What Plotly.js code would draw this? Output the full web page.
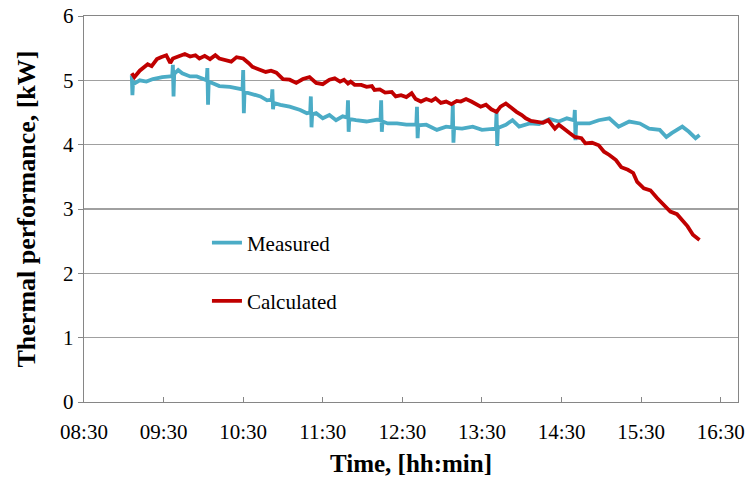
<!DOCTYPE html>
<html>
<head>
<meta charset="utf-8">
<script src="https://cdn.plot.ly/plotly-3.0.1.min.js"></script>
<style>html,body{margin:0;padding:0;background:#fff;}#chart{width:748px;height:480px;}</style>
</head>
<body>
<div id="chart"></div>
<script>
const DAY = '2020-01-01 ';
const tickTimes = ['08:30','09:30','10:30','11:30','12:30','13:30','14:30','15:30','16:30'];

const measuredTime = [
'09:06','09:06:30','09:07','09:08','09:12','09:17','09:22','09:29','09:35',
'09:36:30','09:37','09:37:30','09:38','09:41','09:44','09:50','09:55','10:00',
'10:02:30','10:03','10:03:30','10:04','10:07','10:12','10:20','10:27',
'10:29:30','10:30','10:30:30','10:31','10:35','10:43','10:48',
'10:51:30','10:52','10:52:30','10:53','10:58','11:05','11:13','11:18',
'11:20:30','11:21','11:21:30','11:22','11:25','11:30','11:35','11:40','11:45',
'11:48:30','11:49','11:49:30','11:50','11:55','12:03','12:11',
'12:13:30','12:14','12:14:30','12:15','12:19','12:26','12:33',
'12:40:30','12:41','12:41:30','12:42','12:48','12:56','13:03',
'13:07:30','13:08','13:08:30','13:09','13:15','13:23','13:30',
'13:40:30','13:41','13:41:30','13:42','13:48','13:53','13:58','14:06','14:13','14:21','14:28','14:34',
'14:39:30','14:40','14:40:30','14:41','14:43','14:51','14:58','15:06','15:13','15:21','15:29',
'15:36','15:44','15:49','15:53','16:01','16:06','16:11','16:14'];
const measuredValue = [
5.08,4.77,4.98,4.95,5.00,4.98,5.02,5.05,5.06,
5.06,5.24,4.75,5.10,5.16,5.11,5.06,5.06,5.02,
5.00,5.19,4.62,4.98,4.95,4.91,4.90,4.86,
4.86,5.16,4.49,4.82,4.80,4.75,4.69,
4.70,4.86,4.55,4.65,4.62,4.59,4.54,4.49,
4.50,4.75,4.27,4.47,4.49,4.41,4.46,4.38,4.44,
4.42,4.69,4.20,4.40,4.38,4.36,4.39,
4.38,4.69,4.20,4.36,4.33,4.33,4.31,
4.31,4.59,4.10,4.30,4.31,4.23,4.28,
4.27,4.62,4.03,4.26,4.25,4.28,4.23,
4.25,4.51,3.98,4.26,4.31,4.38,4.28,4.33,4.32,4.40,4.36,4.41,
4.38,4.54,4.07,4.33,4.33,4.33,4.38,4.41,4.28,4.36,4.33,
4.25,4.23,4.12,4.18,4.28,4.20,4.10,4.15];

const calculatedTime = [
'09:06','09:08','09:12','09:16','09:18','09:21','09:25','09:28','09:32','09:35','09:37','09:41','09:46','09:50','09:54','09:57',
'10:01','10:05','10:09','10:12','10:17','10:21','10:25','10:30','10:34','10:37','10:42','10:47','10:51','10:55',
'11:00','11:05','11:10','11:15','11:20','11:25','11:30','11:35','11:39','11:43','11:46','11:49','11:51','11:54','11:59',
'12:03','12:07','12:09','12:13','12:17','12:22','12:25','12:29','12:33','12:37','12:40','12:44','12:48','12:52','12:55','12:59',
'13:03','13:07','13:11','13:14','13:18','13:22','13:26','13:29','13:33','13:37','13:41','13:44','13:48','13:52','13:56',
'14:00','14:03','14:07','14:11','14:16','14:20','14:22','14:25','14:28','14:32','14:36','14:40','14:45','14:48','14:53','14:58',
'15:02','15:06','15:11','15:15','15:20','15:24','15:27','15:32','15:37','15:42','15:47','15:52','15:57',
'16:01','16:05','16:09','16:14'];
const calculatedValue = [
5.11,5.05,5.15,5.21,5.25,5.22,5.33,5.36,5.39,5.27,5.34,5.37,5.41,5.37,5.39,5.34,
5.38,5.33,5.39,5.34,5.31,5.29,5.36,5.34,5.27,5.21,5.17,5.13,5.15,5.12,
5.02,5.01,4.96,5.02,5.05,4.96,4.94,5.01,5.03,4.98,5.01,4.95,4.98,4.93,4.93,
4.90,4.91,4.85,4.86,4.81,4.82,4.75,4.77,4.74,4.80,4.71,4.67,4.71,4.68,4.72,4.65,
4.67,4.63,4.68,4.67,4.71,4.67,4.63,4.59,4.62,4.55,4.51,4.59,4.64,4.57,4.51,
4.46,4.41,4.37,4.36,4.34,4.38,4.33,4.25,4.31,4.24,4.18,4.12,4.10,4.02,4.03,3.99,
3.89,3.84,3.76,3.65,3.61,3.56,3.42,3.32,3.29,3.17,3.06,2.96,2.92,
2.83,2.73,2.60,2.52];

const toDate = a => a.map(t => DAY + t);
const font = 'Liberation Serif, Times New Roman, serif';

const traces = [
  {x: toDate(measuredTime), y: measuredValue, name: 'Measured', type: 'scatter', mode: 'lines',
   line: {color: '#4BACC6', width: 3.8}, legendgroup: 'm'},
  {x: toDate(calculatedTime), y: calculatedValue, name: 'Calculated', type: 'scatter', mode: 'lines',
   line: {color: '#C00000', width: 3.8}, legendgroup: 'c'}
];

const layout = {
  width: 748, height: 480,
  margin: {l: 84, r: 10, t: 16, b: 78},
  paper_bgcolor: '#fff', plot_bgcolor: '#fff',
  font: {family: font, size: 21, color: '#000'},
  xaxis: {
    type: 'date',
    range: [DAY + '08:30', DAY + '16:43'],
    tickvals: toDate(tickTimes), ticktext: tickTimes,
    ticks: 'inside', ticklen: 5, tickcolor: '#868686',
    ticklabelstandoff: 10,
    showline: true, linecolor: '#868686', linewidth: 1.3, mirror: true,
    showgrid: false, zeroline: false,
    tickfont: {family: font, size: 21},
    title: {text: '<b>Time, [hh:min]</b>', font: {family: font, size: 25}, standoff: 12}
  },
  yaxis: {
    range: [0, 6], dtick: 1, tick0: 0,
    ticks: 'outside', ticklen: 5, tickcolor: '#868686',
    showline: true, linecolor: '#868686', linewidth: 1.3, mirror: true,
    showgrid: true, gridcolor: '#A0A0A0', gridwidth: 1.3, zeroline: false,
    tickfont: {family: font, size: 21},
    title: {text: '<b>Thermal performance, [kW]</b>', font: {family: font, size: 26}, standoff: 20}
  },
  showlegend: true,
  legend: {
    x: 0.188, y: 0.465, xanchor: 'left', yanchor: 'top',
    bgcolor: 'rgba(0,0,0,0)', borderwidth: 0,
    font: {family: font, size: 21},
    traceorder: 'grouped', tracegroupgap: 28
  }
};

Plotly.newPlot('chart', traces, layout, {displayModeBar: false, staticPlot: true});
</script>
</body>
</html>
